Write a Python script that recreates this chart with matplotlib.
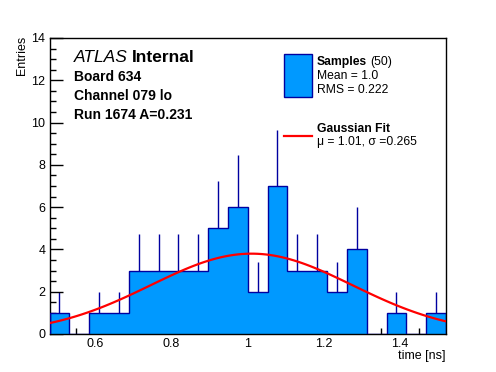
"""Timing distribution for one channel, ROOT/ATLAS style histogram with Gaussian fit."""
import matplotlib

matplotlib.use("Agg")

import matplotlib.pyplot as plt  # noqa: E402
import numpy as np  # noqa: E402
from matplotlib.ticker import MultipleLocator  # noqa: E402

plt.rcParams["font.family"] = ["Liberation Sans", "DejaVu Sans"]

# --- data --------------------------------------------------------------------------
BIN_LO, BIN_HI, N_BINS = 0.48, 1.52, 20
counts = [1, 0, 1, 1, 3, 3, 3, 3, 5, 6, 2, 7, 3, 3, 2, 4, 0, 1, 0, 1]

fit_amp = 3.8
fit_mu = 1.01
fit_sigma = 0.265

label_lines = ["Board 634", "Channel 079 lo", "Run 1674 A=0.231"]
samples_n = 50
mean_txt = "Mean = 1.0"
rms_txt = "RMS = 0.222"

FILL = "#0099ff"
EDGE = "#0000a0"
W, H = 496, 372


def px(x, y):
    """Pixel position (from top-left) -> figure fraction."""
    return x / W, 1 - y / H


edges = np.linspace(BIN_LO, BIN_HI, N_BINS + 1)
centers = 0.5 * (edges[:-1] + edges[1:])
counts = np.asarray(counts, dtype=float)

fig = plt.figure(figsize=(W / 100, H / 100), dpi=100)
ax = fig.add_axes([49.5 / W, 1 - 334 / H, (446 - 49.5) / W, (334 - 38) / H])

# sqrt(N) error bars, only the upper half shows above the filled bars
nz = counts > 0
ax.vlines(centers[nz], counts[nz], counts[nz] + np.sqrt(counts[nz]),
          color=EDGE, lw=1.0, zorder=1)
ax.stairs(counts, edges, fill=True, facecolor=FILL, edgecolor="none", zorder=2)
ax.stairs(counts, edges, color=EDGE, lw=1.0, zorder=3)

xf = np.linspace(BIN_LO, BIN_HI, 100)
yf = fit_amp * np.exp(-0.5 * ((xf - fit_mu) / fit_sigma) ** 2)
ax.plot(xf, yf, color="red", lw=1.6, zorder=4)

ax.set_xlim(BIN_LO, BIN_HI)
ax.set_ylim(0, 14)
ax.xaxis.set_major_locator(MultipleLocator(0.2))
ax.xaxis.set_minor_locator(MultipleLocator(0.05))
ax.yaxis.set_major_locator(MultipleLocator(2))
ax.yaxis.set_minor_locator(MultipleLocator(0.5))
ax.tick_params(which="both", direction="in", top=False, right=False,
               labelsize=9, width=1.0)
ax.tick_params(which="major", length=9, pad=3)
ax.tick_params(which="minor", length=4.5)
ax.xaxis.set_major_formatter(plt.FuncFormatter(lambda v, _: f"{v:g}"))
for s in ax.spines.values():
    s.set_linewidth(1.0)

fig.text(*px(22, 36), "Entries", rotation=90, ha="center", va="top", fontsize=9)
fig.text(*px(446, 350), "time [ns]", ha="right", va="top", fontsize=9)

# ATLAS label block
atlas = fig.text(*px(74, 58), "ATLAS", style="italic", fontsize=12.5, va="center")
for i, line in enumerate(label_lines):
    fig.text(*px(74, 77 + 19 * i), line, weight="bold", fontsize=10, va="center")

# legend, drawn by hand to match the ROOT TLegend layout
fig.patches.append(plt.Rectangle(px(283.5, 96.5), 28 / W, 43 / H,
                                 transform=fig.transFigure, facecolor=FILL,
                                 edgecolor=EDGE, lw=1.0))
samples = fig.text(*px(317, 61.5), "Samples", weight="bold", fontsize=8.7, va="center")
fig.text(*px(317, 76), mean_txt, fontsize=8.7, va="center")
fig.text(*px(317, 90), rms_txt, fontsize=8.7, va="center")

fig.lines.append(plt.Line2D([283.5 / W, 311.5 / W], [1 - 136 / H] * 2,
                            transform=fig.transFigure, color="red", lw=1.6))
fig.text(*px(317, 129), "Gaussian Fit", weight="bold", fontsize=8.7, va="center")
fig.text(*px(317, 142), f"\u03bc = {fit_mu:.2f}, \u03c3 ={fit_sigma:.3f}",
         fontsize=8.7, va="center")

# place the trailing words right after their lead-in words
fig.canvas.draw()
r = fig.canvas.get_renderer()
bb = atlas.get_window_extent(r)
fig.text(bb.x1 / W + 4 / W, 1 - 58 / H, "Internal",
         weight="bold", fontsize=12.5, va="center")
bb = samples.get_window_extent(r)
fig.text(bb.x1 / W + 3 / W, 1 - 61.5 / H, f"({samples_n})",
         fontsize=8.7, va="center")

fig.savefig("out.png", dpi=100)
